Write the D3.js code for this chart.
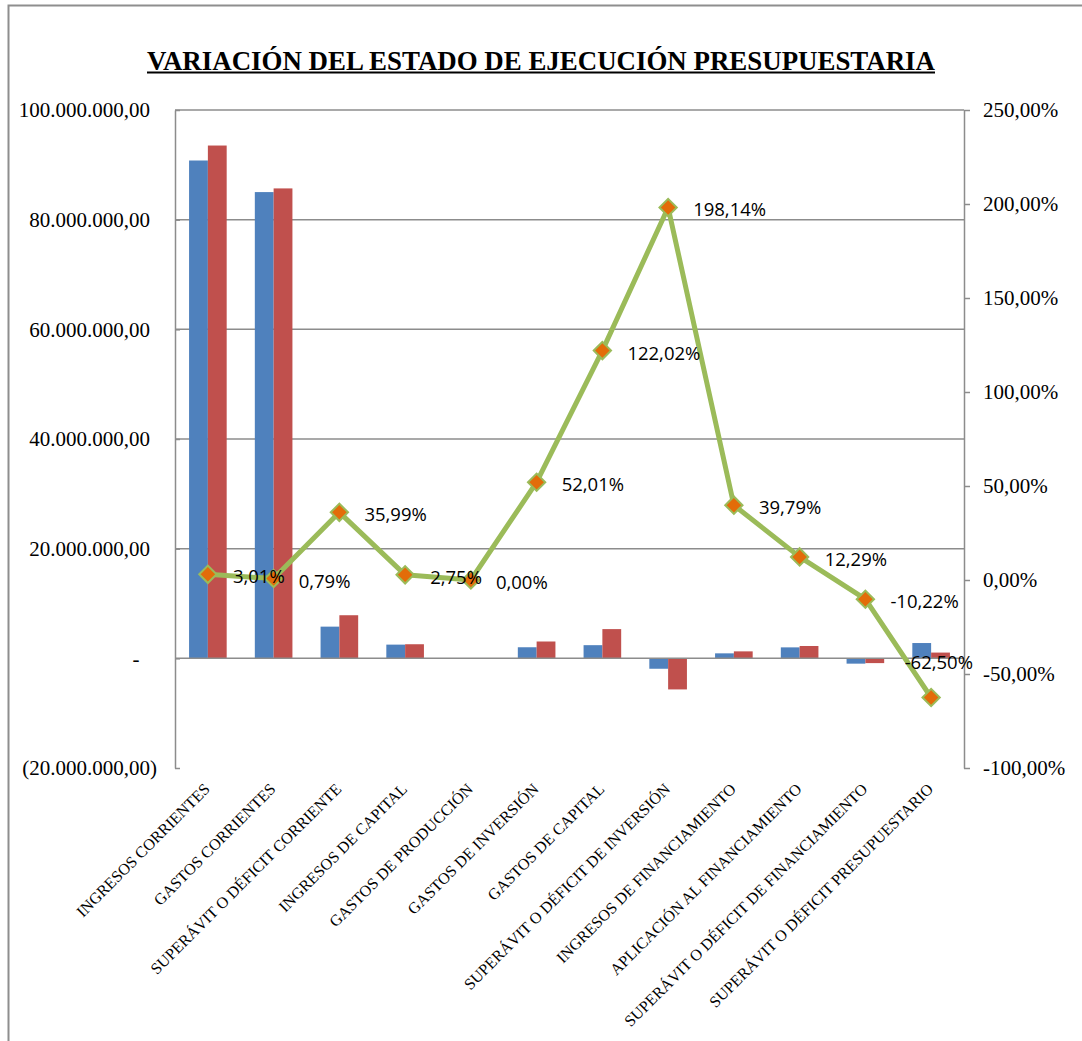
<!DOCTYPE html>
<html>
<head>
<meta charset="utf-8">
<script src="https://cdn.jsdelivr.net/npm/d3@7"></script>
<style>
  html, body { margin: 0; padding: 0; background: #ffffff; }
  svg { display: block; }
</style>
</head>
<body>
<script>
// Budget execution: prior vs current amounts (bars, left axis) and variation % (line, right axis)
const categories = [
  "INGRESOS CORRIENTES",
  "GASTOS CORRIENTES",
  "SUPERÁVIT O DÉFICIT CORRIENTE",
  "INGRESOS DE CAPITAL",
  "GASTOS DE PRODUCCIÓN",
  "GASTOS DE INVERSIÓN",
  "GASTOS DE CAPITAL",
  "SUPERÁVIT O DÉFICIT DE INVERSIÓN",
  "INGRESOS DE FINANCIAMIENTO",
  "APLICACIÓN AL FINANCIAMIENTO",
  "SUPERÁVIT O DÉFICIT DE FINANCIAMIENTO",
  "SUPERÁVIT O DÉFICIT PRESUPUESTARIO"
];

// Amounts in currency units
const anterior = [90790000, 85030000, 5780000, 2500000, 0, 2020000, 2400000, -1900000, 910000, 2000000, -970000, 2790000];
const actual   = [93520000, 85700000, 7860000, 2570000, 0, 3070000, 5330000, -5670000, 1270000, 2250000, -870000, 1050000];

// Variation in percent
const variacion = [3.01, 0.79, 35.99, 2.75, 0.00, 52.01, 122.02, 198.14, 39.79, 12.29, -10.22, -62.50];

const leftTicks = [-20000000, 0, 20000000, 40000000, 60000000, 80000000, 100000000];
const leftTickLabels = ["(20.000.000,00)", "-", "20.000.000,00", "40.000.000,00", "60.000.000,00", "80.000.000,00", "100.000.000,00"];

const rightTicks = [-100, -50, 0, 50, 100, 150, 200, 250];
const rightTickLabels = ["-100,00%", "-50,00%", "0,00%", "50,00%", "100,00%", "150,00%", "200,00%", "250,00%"];

const titleText = "VARIACIÓN DEL ESTADO DE EJECUCIÓN PRESUPUESTARIA";

// ---- layout ----
const W = 1082, H = 1041;
const plot = { left: 175, right: 964, top: 110, bottom: 768 };
const gridColor = "#8c8c8c";
const serif = "'Liberation Serif', 'Times New Roman', serif";

// Spanish number formatting with a plain hyphen for negatives
const esLocale = d3.formatLocale({
  decimal: ",", thousands: ".", grouping: [3], currency: ["", ""], minus: "-"
});
const fmtPct = v => esLocale.format(".2f")(v) + "%";

const svg = d3.select("body").append("svg")
  .attr("width", W).attr("height", H);

// chart frame
svg.append("rect")
  .attr("x", 8.5).attr("y", 5.5)
  .attr("width", 1200).attr("height", 1200)
  .attr("fill", "none").attr("stroke", "#8e8e8e").attr("stroke-width", 2);

// title
svg.append("text")
  .attr("x", 541).attr("y", 70)
  .attr("text-anchor", "middle")
  .style("font-family", serif)
  .style("font-weight", "bold")
  .style("font-size", "28px")
  .attr("textLength", 788)
  .attr("lengthAdjust", "spacingAndGlyphs")
  .attr("fill", "#000")
  .text(titleText);
svg.append("line")
  .attr("x1", 541 - 394).attr("x2", 541 + 394)
  .attr("y1", 72.5).attr("y2", 72.5)
  .attr("stroke", "#000").attr("stroke-width", 2);

// ---- scales ----
const x = d3.scaleBand().domain(categories).range([plot.left, plot.right]);
const bw = x.bandwidth();
const xs = d3.scaleBand().domain(["anterior", "actual"]).range([bw * 0.214, bw * 0.786]);
const yL = d3.scaleLinear().domain([-20000000, 100000000]).range([plot.bottom, plot.top]);
const yR = d3.scaleLinear().domain([-100, 250]).range([plot.bottom, plot.top]);
const cx = c => x(c) + bw / 2;

// gridlines at the left-axis ticks
svg.append("g")
  .selectAll("line")
  .data(leftTicks.filter(t => t > 0))
  .join("line")
  .attr("x1", plot.left).attr("x2", plot.right)
  .attr("y1", d => yL(d)).attr("y2", d => yL(d))
  .attr("stroke", gridColor).attr("stroke-width", 1.5);

// bars
const barData = categories.flatMap((c, i) => [
  { c, key: "anterior", v: anterior[i], color: "#4F81BD" },
  { c, key: "actual", v: actual[i], color: "#C0504D" }
]);
svg.append("g")
  .selectAll("rect")
  .data(barData)
  .join("rect")
  .attr("x", d => x(d.c) + xs(d.key))
  .attr("width", xs.bandwidth())
  .attr("y", d => Math.min(yL(d.v), yL(0)))
  .attr("height", d => Math.abs(yL(d.v) - yL(0)))
  .attr("fill", d => d.color);

// category axis line at zero
svg.append("line")
  .attr("x1", plot.left).attr("x2", plot.right)
  .attr("y1", yL(0)).attr("y2", yL(0))
  .attr("stroke", gridColor).attr("stroke-width", 1.5);

// left axis
const gL = svg.append("g")
  .attr("transform", `translate(${plot.left},0)`)
  .call(d3.axisLeft(yL)
    .tickValues(leftTicks)
    .tickSize(-5)
    .tickSizeOuter(0)
    .tickPadding(25)
    .tickFormat((d, i) => leftTickLabels[i]));
gL.select(".domain").attr("stroke", gridColor).attr("stroke-width", 1.5);
gL.selectAll(".tick line").attr("stroke", gridColor).attr("stroke-width", 1.5);
gL.selectAll(".tick text")
  .style("font-family", serif)
  .style("font-size", "21px")
  .attr("fill", "#000")
  .attr("x", d => d === 0 ? -35.5 : (d < 0 ? -18 : -25));

// right axis
const gR = svg.append("g")
  .attr("transform", `translate(${plot.right},0)`)
  .call(d3.axisRight(yR)
    .tickValues(rightTicks)
    .tickSize(6)
    .tickSizeOuter(0)
    .tickPadding(13)
    .tickFormat((d, i) => rightTickLabels[i]));
gR.select(".domain").attr("stroke", gridColor).attr("stroke-width", 1.5);
gR.selectAll(".tick line").attr("stroke", gridColor).attr("stroke-width", 1.5);
gR.selectAll(".tick text")
  .style("font-family", serif)
  .style("font-size", "21px")
  .attr("fill", "#000");

// rotated category labels
svg.append("g")
  .selectAll("text")
  .data(categories)
  .join("text")
  .attr("transform", d => `translate(${cx(d) + 3},790) rotate(-45)`)
  .attr("text-anchor", "end")
  .style("font-family", serif)
  .style("font-size", "16px")
  .attr("fill", "#000")
  .text(d => d);

// variation line
const pts = categories.map((c, i) => ({ c, v: variacion[i] }));
svg.append("path")
  .datum(pts)
  .attr("fill", "none")
  .attr("stroke", "#9BBB59")
  .attr("stroke-width", 5)
  .attr("stroke-linejoin", "round")
  .attr("d", d3.line().x(d => cx(d.c)).y(d => yR(d.v)));

// diamond markers
svg.append("g")
  .selectAll("path")
  .data(pts)
  .join("path")
  .attr("d", d3.symbol(d3.symbolSquare, 150))
  .attr("transform", d => `translate(${cx(d.c)},${yR(d.v)}) rotate(45)`)
  .attr("fill", "#E36C09")
  .attr("stroke", "#9BBB59")
  .attr("stroke-width", 2);

// value labels to the right of each marker; a label that would run past
// the right axis is lifted above-left of its marker instead
const labels = svg.append("g")
  .selectAll("text")
  .data(pts)
  .join("text")
  .style("font-family", "'Open Sans', sans-serif")
  .style("font-size", "18.5px")
  .attr("fill", "#000")
  .attr("dominant-baseline", "central")
  .attr("x", d => cx(d.c) + 25)
  .attr("y", d => yR(d.v) + 1.5)
  .text(d => fmtPct(d.v));
labels.each(function(d) {
  const w = this.getComputedTextLength();
  if (cx(d.c) + 25 + w > plot.right + 10) {
    d3.select(this)
      .attr("x", cx(d.c) - 26.5)
      .attr("y", yR(d.v) - 36);
  }
});
</script>
</body>
</html>
